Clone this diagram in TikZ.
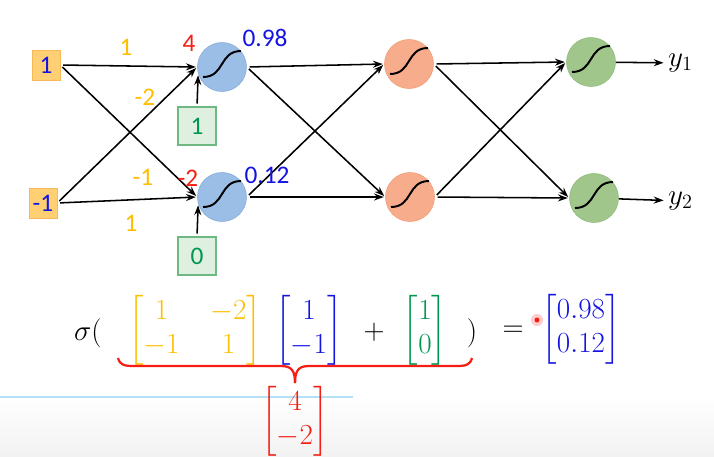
\documentclass[tikz,border=0pt]{standalone}
\usepackage{amsmath}
\usepackage{fontspec}
\setmainfont{Carlito}
\usetikzlibrary{arrows.meta,positioning}
\definecolor{cellBlue}{RGB}{155,190,230}
\definecolor{cellBlueD}{RGB}{135,172,218}
\definecolor{cellOrange}{RGB}{247,172,140}
\definecolor{cellOrangeD}{RGB}{240,158,120}
\definecolor{cellGreen}{RGB}{160,198,140}
\definecolor{cellGreenD}{RGB}{145,188,125}
\definecolor{inFill}{RGB}{255,208,115}
\definecolor{inDraw}{RGB}{245,185,90}
\definecolor{biasFill}{RGB}{224,240,224}
\definecolor{biasDraw}{RGB}{110,185,130}
\definecolor{wOrange}{RGB}{255,190,0}
\definecolor{zRed}{RGB}{245,30,20}
\definecolor{aBlue}{RGB}{20,20,225}
\definecolor{bGreen}{RGB}{0,150,80}
\definecolor{lineBlue}{RGB}{180,225,245}
\newcommand{\lblfont}{\fontsize{18}{21}\selectfont}
\newcommand{\eqfont}{\fontsize{22}{24}\selectfont}

\begin{document}
\begin{tikzpicture}[x=0.025cm,y=-0.025cm,
    conn/.style={-{Stealth[length=7pt,width=5pt]},line width=1.1pt,shorten <=2pt,shorten >=1pt},
    cell/.style={circle,minimum size=1.225cm,inner sep=0pt,line width=0.4pt},
    cellb/.style={cell,fill=cellBlue,draw=cellBlueD},
    cello/.style={cell,fill=cellOrange,draw=cellOrangeD},
    cellg/.style={cell,fill=cellGreen,draw=cellGreenD},
    sigline/.style={line width=1.4pt},
    inbox/.style={rectangle,fill=inFill,draw=inDraw,minimum width=0.7cm,minimum height=0.75cm,inner sep=0pt,font=\lblfont,text=aBlue},
    biasbox/.style={rectangle,fill=biasFill,draw=biasDraw,line width=0.8pt,minimum size=0.95cm,inner sep=0pt,font=\lblfont,text=bGreen},
    wlbl/.style={font=\lblfont,text=wOrange,inner sep=0pt},
    zlbl/.style={font=\lblfont,text=zRed,inner sep=0pt},
    albl/.style={font=\lblfont,text=aBlue,inner sep=0pt},
    outlbl/.style={font=\fontsize{20}{23}\selectfont,anchor=west,inner sep=2pt},
    eqn/.style={font=\eqfont,inner sep=0pt}]
\useasboundingbox (0,0) rectangle (714,456);
\fill[top color=white,bottom color=black!5] (0,395) rectangle (714,456);
\draw[lineBlue,line width=1.5pt] (0,397) -- (353,397);

% inputs and biases
\node[inbox] (x1) at (46,65) {1};
\node[inbox] (x2) at (43,203) {-1};
\node[biasbox] (b1) at (197,126) {1};
\node[biasbox] (b2) at (197,256) {0};

% neurons
\node[cellb] (h1) at (222,67) {};
\node[cellb] (h2) at (222,197) {};
\node[cello] (m1) at (409,64) {};
\node[cello] (m2) at (410,197) {};
\node[cellg] (o1) at (591,62) {};
\node[cellg] (o2) at (594,198) {};
\foreach \n in {h1,h2,m1,m2,o1,o2}
    \draw[sigline] ([shift={(-19,10)}]\n.center) .. controls ([shift={(3,10)}]\n.center) and ([shift={(-3,-16)}]\n.center) .. ([shift={(19,-16)}]\n.center);
\node[outlbl] (y1) at (665,63) {$y_1$};
\node[outlbl] (y2) at (665,201) {$y_2$};

% connections
\foreach \a in {x1,x2}
    \foreach \b in {h1,h2}
        \draw[conn] (\a.east) -- (\b.west);
\foreach \a in {h1,h2}
    \foreach \b in {m1,m2}
        \draw[conn] (\a.east) -- (\b.west);
\foreach \a in {m1,m2}
    \foreach \b in {o1,o2}
        \draw[conn] (\a.east) -- (\b.west);
\draw[conn] (b1.north) -- (h1.196);
\draw[conn] (b2.north) -- (h2.196);
\draw[conn,shorten <=0pt] (o1) -- (y1);
\draw[conn,shorten <=0pt] (o2) -- (y2);

% weights, sums, activations
\node[wlbl] (w11) at (126,47) {1};
\node[wlbl] (w12) at (145,97) {-2};
\node[wlbl] (w21) at (143,177) {-1};
\node[wlbl] (w22) at (131,223) {1};
\node[zlbl] (z1) at (189,43) {4};
\node[zlbl] (z2) at (188,178) {-2};
\node[albl] (a1) at (265,38) {0.98};
\node[albl] (a2) at (267,175) {0.12};

% equation
\node[eqn] (sig) at (88,333) {$\sigma($};
\node[eqn,text=wOrange] (wmat) at (195,330) {\setlength{\arraycolsep}{11pt}$\begin{bmatrix}1 & -2\\ -1 & 1\end{bmatrix}$};
\node[eqn,text=aBlue] (xvec) at (309,330) {$\begin{bmatrix}1\\ -1\end{bmatrix}$};
\node[eqn] (plus) at (374,332) {$+$};
\node[eqn,text=bGreen] (bvec) at (425,330) {$\begin{bmatrix}1\\ 0\end{bmatrix}$};
\node[eqn] (rpar) at (472,333) {$)$};
\node[eqn] (eqs) at (513,331) {$=$};
\node[eqn,text=aBlue] (avec) at (581,329) {$\begin{bmatrix}0.98\\ 0.12\end{bmatrix}$};
\node[eqn,text=zRed] (zvec) at (295,421) {$\begin{bmatrix}4\\ -2\end{bmatrix}$};
\fill[red!20] (537,320) circle (6);
\fill[zRed] (537,320) circle (2.5);
\draw[zRed,line width=1.6pt] (118,358) .. controls (120,365) and (124,366) .. (134,366) -- (281,366) .. controls (291,366) and (295,370) .. (295,383);
\draw[zRed,line width=1.6pt] (472,358) .. controls (470,365) and (466,366) .. (456,366) -- (309,366) .. controls (299,366) and (295,370) .. (295,383);
\end{tikzpicture}
\end{document}
